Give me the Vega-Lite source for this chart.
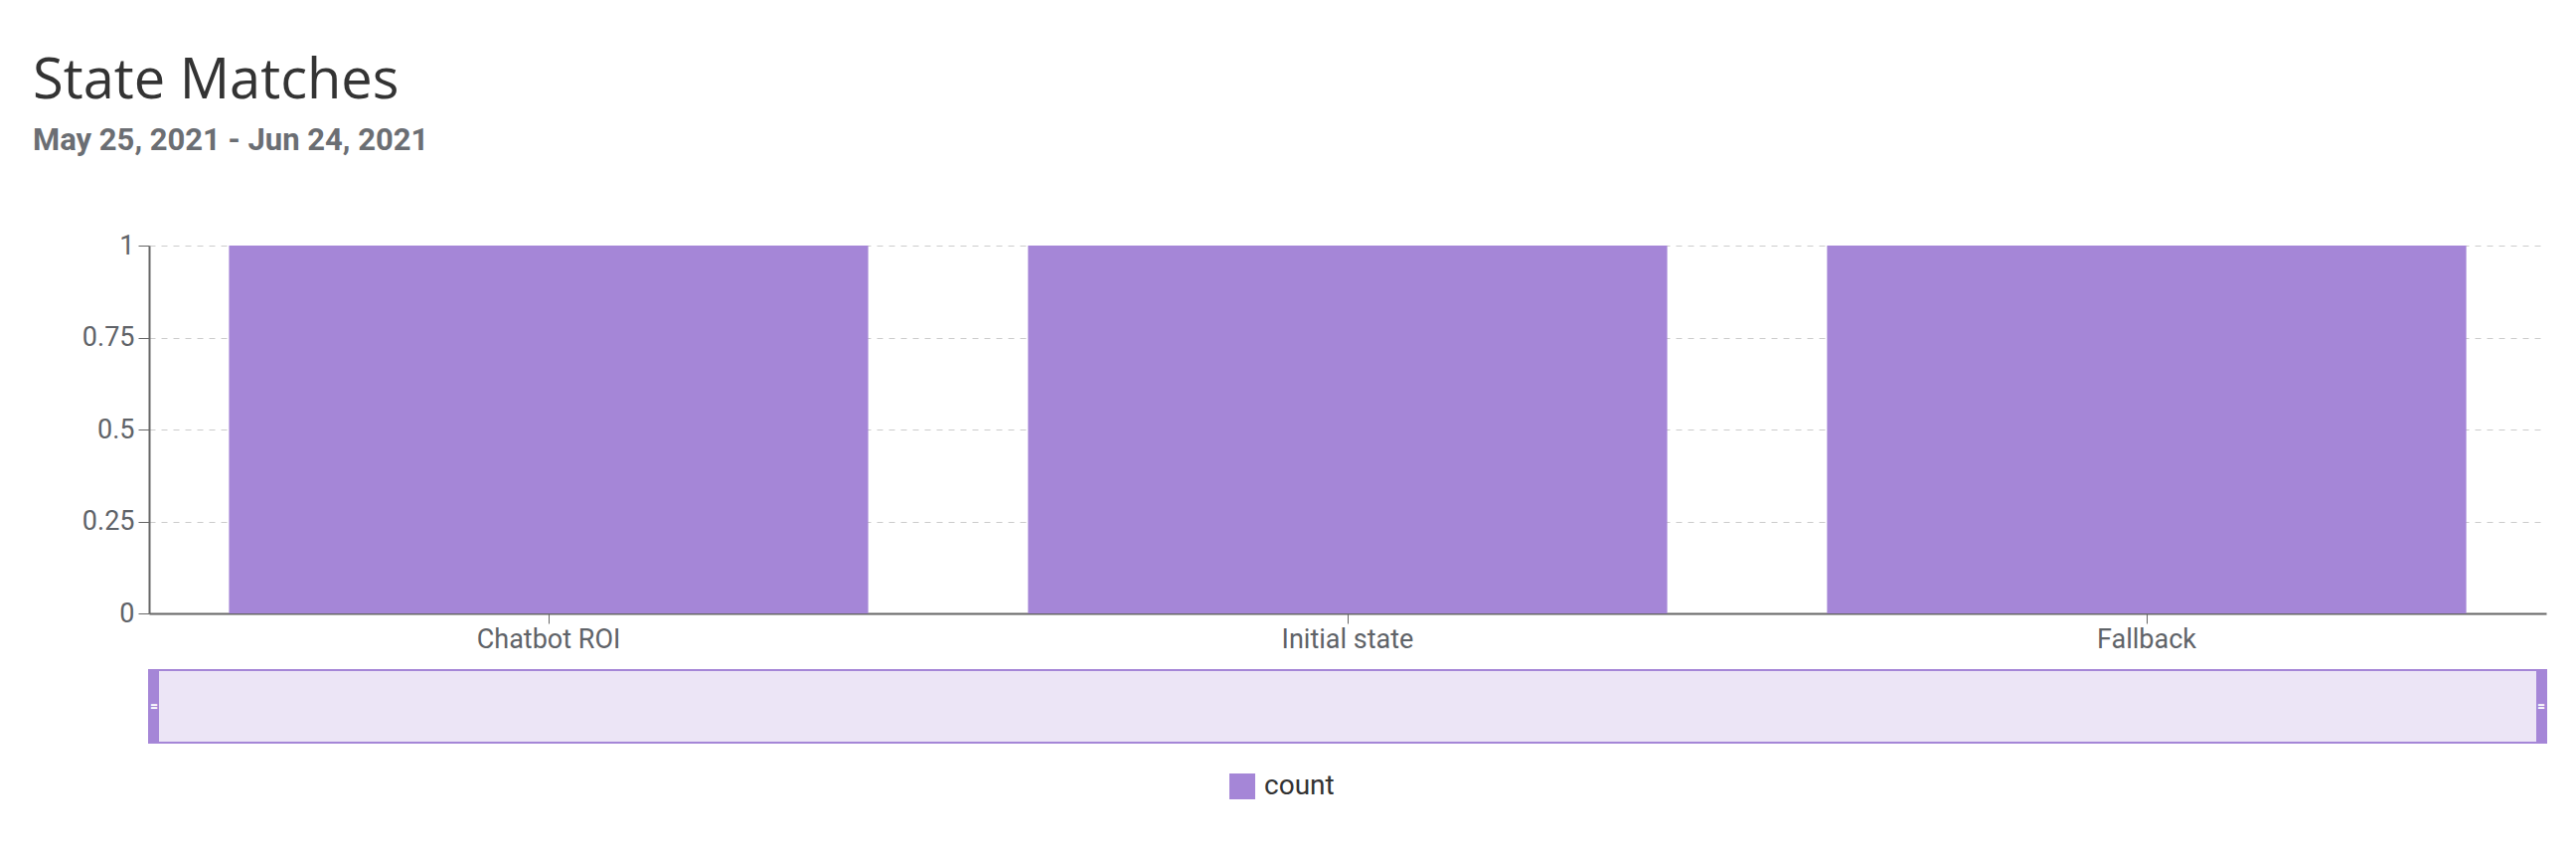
{
  "$schema": "https://vega.github.io/schema/vega-lite/v6.json",
  "background": "white",
  "padding": {"left": 33, "top": 54, "right": 30, "bottom": 30},
  "title": {
    "text": "State Matches",
    "subtitle": "May 25, 2021 - Jun 24, 2021",
    "anchor": "start",
    "frame": "bounds",
    "font": "Open Sans",
    "fontSize": 56,
    "fontWeight": "normal",
    "color": "#333333",
    "subtitleFont": "Roboto",
    "subtitleFontSize": 31,
    "subtitleFontWeight": "bold",
    "subtitleColor": "#6b6e73",
    "subtitlePadding": 16,
    "offset": 75
  },
  "config": {
    "view": {"stroke": null},
    "concat": {"spacing": 13},
    "font": "Roboto"
  },
  "vconcat": [
    {
      "width": 2412,
      "height": 370,
      "data": {
        "values": [
          {"state": "Chatbot ROI", "count": 1, "measure": "count"},
          {"state": "Initial state", "count": 1, "measure": "count"},
          {"state": "Fallback", "count": 1, "measure": "count"}
        ]
      },
      "mark": {"type": "bar"},
      "encoding": {
        "x": {
          "field": "state",
          "type": "nominal",
          "sort": null,
          "title": null,
          "scale": {"paddingInner": 0.2, "paddingOuter": 0.1},
          "axis": {
            "labelAngle": 0,
            "labelFontSize": 27,
            "labelFont": "Roboto",
            "labelColor": "#5f6368",
            "tickColor": "#666666",
            "domainColor": "#666666",
            "domainWidth": 2,
            "tickSize": 10,
            "labelPadding": 3
          }
        },
        "y": {
          "field": "count",
          "type": "quantitative",
          "title": null,
          "scale": {"domain": [0, 1]},
          "axis": {
            "values": [0, 0.25, 0.5, 0.75, 1],
            "format": ".2~f",
            "labelFontSize": 27,
            "labelFont": "Roboto",
            "labelColor": "#5f6368",
            "grid": true,
            "gridDash": [6, 6],
            "gridColor": "#cccccc",
            "domainColor": "#666666",
            "domainWidth": 2,
            "tickColor": "#666666",
            "tickSize": 11,
            "labelPadding": 4,
            "minExtent": 117
          }
        },
        "color": {
          "field": "measure",
          "type": "nominal",
          "scale": {"range": ["#a586d7"]},
          "legend": {
            "title": null,
            "orient": "none",
            "legendX": 1086,
            "legendY": 530,
            "direction": "horizontal",
            "symbolType": "square",
            "symbolSize": 676,
            "symbolStrokeWidth": 0,
            "labelFontSize": 28,
            "labelOffset": 8,
            "labelFont": "Roboto",
            "labelColor": "#333333"
          }
        }
      }
    },
    {
      "width": 2412,
      "height": 73,
      "data": {"values": [{"start": 0, "end": 1}]},
      "layer": [
        {
          "mark": {"type": "rect", "fill": "#ece5f6", "stroke": "#a586d7", "strokeWidth": 2},
          "encoding": {
            "x": {"field": "start", "type": "quantitative", "scale": {"domain": [0, 1]}, "axis": null},
            "x2": {"field": "end"}
          }
        },
        {
          "mark": {"type": "rule", "color": "#a586d7", "strokeWidth": 10, "xOffset": 5},
          "encoding": {
            "x": {"field": "start", "type": "quantitative", "scale": {"domain": [0, 1]}, "axis": null}
          }
        },
        {
          "mark": {"type": "rule", "color": "#a586d7", "strokeWidth": 10, "xOffset": -5},
          "encoding": {
            "x": {"field": "end", "type": "quantitative", "scale": {"domain": [0, 1]}, "axis": null}
          }
        },
        {
          "mark": {"type": "text", "text": "=", "color": "white", "fontSize": 14, "fontWeight": "bold", "dx": 5},
          "encoding": {
            "x": {"field": "start", "type": "quantitative", "scale": {"domain": [0, 1]}, "axis": null}
          }
        },
        {
          "mark": {"type": "text", "text": "=", "color": "white", "fontSize": 14, "fontWeight": "bold", "dx": -5},
          "encoding": {
            "x": {"field": "end", "type": "quantitative", "scale": {"domain": [0, 1]}, "axis": null}
          }
        }
      ]
    }
  ]
}
